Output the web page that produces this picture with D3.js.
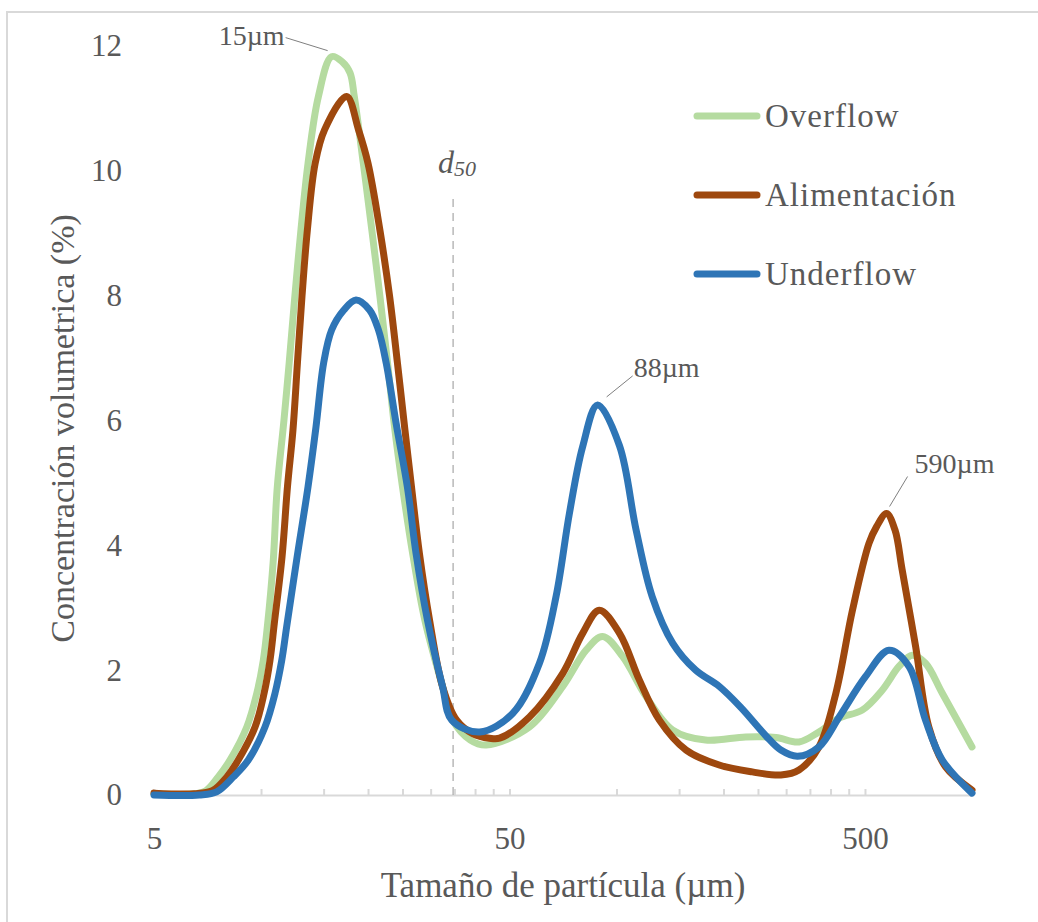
<!DOCTYPE html>
<html>
<head>
<meta charset="utf-8">
<script src="https://cdn.jsdelivr.net/npm/d3@7"></script>
<style>
    body { margin: 0; background: #fff; }
    text { font-family: "Liberation Serif", "Times New Roman", serif; fill: #595959; }
</style>
</head>
<body>
<svg id="chart" width="1038" height="922"></svg>
<script>
// Particle size (µm) and volume concentration (%)
const overflowSize = [5, 6.5, 7.0, 7.58, 8.18, 9.12, 9.73, 10.15, 10.42, 10.83, 11.1, 11.6, 12.0, 12.45, 12.95, 13.56, 14.5, 15.8, 16.9, 17.8, 18.3, 19.4, 20.5, 21.6, 22.7, 23.8, 25.0, 26.7, 28.9, 32.4, 34.6, 38.8, 43.0, 56.9, 70.6, 82.1, 91.4, 104, 121, 144, 178, 231, 281, 326, 371, 423, 491, 559, 623, 679, 740, 825, 1000];
const overflowConc = [0.02, 0.02, 0.07, 0.29, 0.56, 1.09, 1.63, 2.16, 2.70, 3.77, 4.9, 6.0, 6.92, 7.99, 9.05, 10.12, 11.19, 11.83, 11.75, 11.57, 11.19, 10.12, 9.05, 7.99, 6.92, 5.85, 4.94, 3.87, 2.80, 1.74, 1.2, 0.88, 0.80, 1.09, 1.74, 2.32, 2.54, 2.22, 1.58, 1.04, 0.88, 0.93, 0.92, 0.85, 1.01, 1.23, 1.36, 1.68, 2.06, 2.24, 2.11, 1.63, 0.77];

const alimSize = [5, 6.5, 7.3, 8.01, 8.63, 9.62, 10.2, 10.6, 10.9, 11.46, 11.87, 12.3, 12.66, 13.04, 13.5, 14.2, 15.1, 17.4, 18.8, 20.0, 21.6, 23.0, 24.2, 25.4, 26.5, 27.9, 29.8, 32.4, 35.5, 39.5, 43.9, 46.9, 56.9, 70.6, 80.3, 89.4, 102, 116, 132, 157, 194.5, 241, 290, 326, 371, 414, 461, 513, 539, 575, 607, 636, 694, 756, 843, 1000];
const alimConc = [0.03, 0.02, 0.07, 0.29, 0.56, 1.09, 1.63, 2.16, 2.75, 3.82, 4.94, 5.85, 6.92, 7.99, 9.05, 10.12, 10.66, 11.19, 10.66, 10.12, 9.05, 7.99, 6.92, 5.85, 4.94, 3.87, 2.80, 1.74, 1.2, 0.98, 0.91, 0.91, 1.25, 1.95, 2.59, 2.96, 2.59, 1.84, 1.20, 0.72, 0.48, 0.37, 0.32, 0.40, 0.77, 1.63, 2.96, 4.03, 4.30, 4.51, 4.25, 3.61, 2.38, 1.09, 0.45, 0.08];

const underSize = [5, 6.7, 7.5, 8.36, 9.21, 10.26, 10.95, 11.44, 11.81, 12.6, 13.56, 14.28, 15.0, 15.8, 17.1, 18.5, 20.2, 21.4, 22.5, 24.0, 25.8, 27.3, 29.4, 32.4, 34.4, 41.2, 51.1, 60.7, 67.6, 73.7, 80.3, 88.5, 101.9, 113.5, 126, 144, 167, 194.5, 224, 263, 290, 323, 371, 423, 502, 584, 665, 740, 825, 1000];
const underConc = [0.0, 0.0, 0.05, 0.29, 0.56, 1.09, 1.63, 2.16, 2.70, 3.77, 4.94, 5.9, 6.92, 7.45, 7.77, 7.93, 7.77, 7.45, 6.92, 5.95, 4.94, 3.87, 2.80, 1.74, 1.2, 1.01, 1.31, 2.11, 3.18, 4.51, 5.58, 6.25, 5.6, 4.25, 3.18, 2.43, 2.00, 1.74, 1.40, 0.95, 0.72, 0.62, 0.77, 1.25, 1.90, 2.32, 2.06, 1.20, 0.56, 0.03];

const seriesNames = ["Overflow", "Alimentación", "Underflow"];
const seriesColors = ["#b5dba0", "#9e480e", "#2e75b6"];

const xTicks = [5, 10, 15, 20, 25, 30, 35, 40, 45, 50, 100, 150, 200, 250, 300, 350, 400, 450, 500, 1000];
const xTickLabels = [5, 50, 500];
const yTicks = [0, 2, 4, 6, 8, 10, 12];

const d50 = 34.7;
const peakLabels = ["15µm", "88µm", "590µm"];
const peakSize = [15.8, 88.5, 575];
const peakConc = [11.83, 6.25, 4.51];

const svg = d3.select("#chart");

// Scales
const x = d3.scaleLog().domain([5, 1000]).range([154, 972]);
const y = d3.scaleLinear().domain([0, 12]).range([795, 46]);

// Chart frame (top and left edges visible)
svg.append("path")
    .attr("d", "M7,922 V12 H1038")
    .attr("fill", "none")
    .attr("stroke", "#d9d9d9")
    .attr("stroke-width", 2);

// x-axis
const xAxis = svg.append("g")
    .attr("transform", `translate(0, ${y(0)})`)
    .call(d3.axisBottom(x)
        .tickValues(xTicks)
        .tickSize(-6)
        .tickSizeOuter(0)
        .tickFormat(d => xTickLabels.includes(d) ? d : ""));
xAxis.select(".domain").attr("stroke", "#d9d9d9").attr("stroke-width", 2);
xAxis.selectAll(".tick line").attr("stroke", "#d9d9d9").attr("stroke-width", 2);
xAxis.selectAll(".tick text")
    .attr("y", 43)
    .attr("dy", "0.35em")
    .style("font-size", "31px")
    .attr("fill", "#595959");

// y-axis (labels only)
const yAxis = svg.append("g")
    .attr("transform", `translate(${x(5)}, 0)`)
    .call(d3.axisLeft(y).tickValues(yTicks).tickSize(0).tickPadding(32));
yAxis.select(".domain").remove();
yAxis.selectAll(".tick text")
    .style("font-size", "31px")
    .attr("fill", "#595959");

// Axis titles
svg.append("text")
    .attr("x", (x(5) + x(1000)) / 2)
    .attr("y", 885)
    .attr("text-anchor", "middle")
    .attr("dominant-baseline", "central")
    .style("font-size", "35px")
    .text("Tamaño de partícula (µm)");

svg.append("text")
    .attr("text-anchor", "middle")
    .attr("dominant-baseline", "central")
    .attr("transform", `translate(62, ${(y(0) + y(12)) / 2 + 8}) rotate(-90)`)
    .style("font-size", "34px")
    .text("Concentración volumetrica (%)");

// d50 marker
svg.append("line")
    .attr("x1", x(d50)).attr("x2", x(d50))
    .attr("y1", y(0)).attr("y2", y(9.6))
    .attr("stroke", "#a6a6a6")
    .attr("stroke-width", 1.2)
    .attr("stroke-dasharray", "8,6");

const d50Label = svg.append("text")
    .attr("x", x(d50) - 15)
    .attr("y", 173)
    .style("font-size", "32px")
    .style("font-style", "italic");
d50Label.append("tspan").text("d");
d50Label.append("tspan").attr("dy", 3).style("font-size", "22px").text("50");

// Curves (smoothed like the spreadsheet original)
const line = d3.line()
    .x(d => x(d[0]))
    .y(d => y(d[1]))
    .curve(d3.curveCatmullRom.alpha(0.5));

const series = [
    d3.zip(overflowSize, overflowConc),
    d3.zip(alimSize, alimConc),
    d3.zip(underSize, underConc)
];

series.forEach((data, i) => {
    svg.append("path")
        .datum(data)
        .attr("fill", "none")
        .attr("stroke", seriesColors[i])
        .attr("stroke-width", 7)
        .attr("stroke-linejoin", "round")
        .attr("stroke-linecap", "round")
        .attr("d", line);
});

// Peak annotations
const labelOffsets = [
    { lx1: -4, ly1: -6, lx2: -46, ly2: -19, tx: -47, ty: -12, anchor: "end" },
    { lx1: 9, ly1: -8, lx2: 35, ly2: -29, tx: 36, ty: -28, anchor: "start" },
    { lx1: 3, ly1: -7, lx2: 21, ly2: -37, tx: 28, ty: -41, anchor: "start" }
];
peakLabels.forEach((label, i) => {
    const px = x(peakSize[i]);
    const py = y(peakConc[i]);
    const o = labelOffsets[i];
    svg.append("line")
        .attr("x1", px + o.lx1).attr("y1", py + o.ly1)
        .attr("x2", px + o.lx2).attr("y2", py + o.ly2)
        .attr("stroke", "#7f7f7f")
        .attr("stroke-width", 1);
    svg.append("text")
        .attr("x", px + o.tx)
        .attr("y", py + o.ty)
        .attr("text-anchor", o.anchor)
        .style("font-size", "28px")
        .text(label);
});

// Legend
const legend = svg.append("g").attr("transform", "translate(693, 116)");
seriesNames.forEach((name, i) => {
    const row = legend.append("g").attr("transform", `translate(0, ${i * 79})`);
    row.append("line")
        .attr("x1", 4).attr("x2", 64)
        .attr("stroke", seriesColors[i])
        .attr("stroke-width", 7)
        .attr("stroke-linecap", "round");
    row.append("text")
        .attr("x", 72)
        .attr("dominant-baseline", "central")
        .style("font-size", "33px")
        .style("letter-spacing", "1px")
        .text(name);
});
</script>
</body>
</html>
